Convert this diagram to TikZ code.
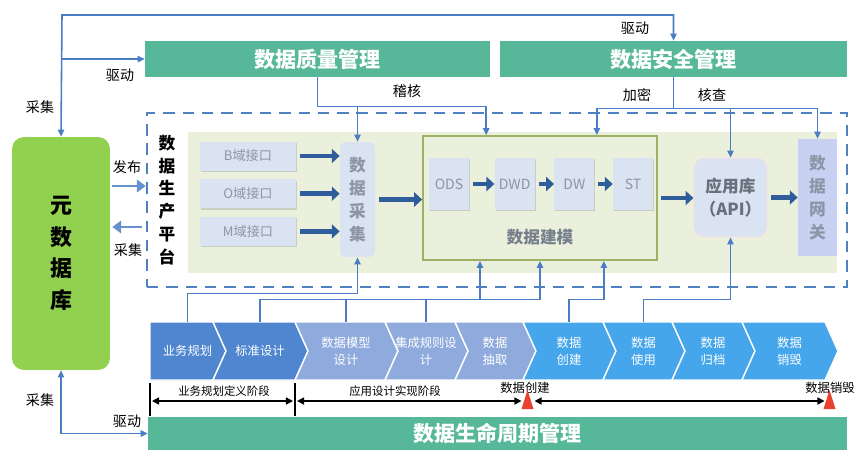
\documentclass[tikz,border=0pt]{standalone}
\usepackage{fontspec}
\setmainfont{Noto Sans CJK SC}
\usetikzlibrary{
        arrows.meta,
        calc,
        positioning,
        shadows
    }
\definecolor{mgreen}{HTML}{56B899}
\definecolor{metagreen}{HTML}{92D050}
\definecolor{palebg}{HTML}{EBF0DD}
\definecolor{boxbg}{HTML}{DAE3F1}
\definecolor{boxtxt}{HTML}{8C96A6}
\definecolor{lnblue}{HTML}{4A7EC4}
\definecolor{fatblue}{HTML}{2F5D9C}
\definecolor{dashblue}{HTML}{4F80C0}
\definecolor{olivebd}{HTML}{9CB163}
\definecolor{chA}{HTML}{4F86CF}
\definecolor{chB}{HTML}{8FAADC}
\definecolor{chC}{HTML}{45A6EC}
\definecolor{mkred}{HTML}{E8412E}
\tikzset{>={Triangle[length=4pt,width=3.6pt]},node distance=0.4cm}
\tikzset{
    ln/.style={draw=lnblue,line width=0.9pt},
    fat/.style={draw=fatblue,line width=2.6pt,-{Triangle[length=4.5pt,width=8pt]},shorten <=2pt},
    side/.style={draw=lnblue!85!white,line width=1.6pt,-{Triangle[length=5pt,width=7pt]}},
    lbl/.style={font=\fontsize{8}{9}\selectfont,inner sep=1pt},
    band/.style={fill=mgreen,text=white,font=\fontsize{12}{14}\selectfont\bfseries,inner sep=0pt},
    iface/.style={fill=boxbg,text=boxtxt,font=\fontsize{7.5}{9}\selectfont,minimum width=1.92cm,minimum height=0.58cm,
        drop shadow={shadow xshift=0.6pt,shadow yshift=-0.8pt,opacity=0.3}},
    tbl/.style={fill=boxbg,text=boxtxt,font=\fontsize{8}{9}\selectfont,minimum width=0.8cm,minimum height=1.04cm,inner sep=0pt,
        drop shadow={shadow xshift=0.6pt,shadow yshift=-0.8pt,opacity=0.3}},
    vtxt/.style={align=center,font=\fontsize{9.5}{13}\selectfont\bfseries},
    chtxt/.style={text=white,align=center,font=\fontsize{7}{9.5}\selectfont,minimum height=1.16cm,inner sep=0pt},
    phase/.style={font=\fontsize{6.5}{8}\selectfont,inner sep=1pt},
    dbl/.style={draw=black,line width=0.8pt,{Triangle[length=4pt,width=4pt]}-{Triangle[length=4pt,width=4pt]}}
}

\begin{document}
\begin{tikzpicture}[x=0.02cm,y=-0.02cm]
    \useasboundingbox (0,0) rectangle (864,464);
    % management bands
    \node[band,minimum width=6.9cm,minimum height=0.72cm] (qual) at (317.5,59) {数据质量管理};
    \node[band,minimum width=6.94cm,minimum height=0.72cm] (sec) at (673.5,59) {数据安全管理};
    \node[band,minimum width=13.98cm,minimum height=0.66cm] (life) at (497.5,433.5) {数据生命周期管理};
    \node[fill=metagreen,rounded corners=0.24cm,minimum width=1.96cm,minimum height=4.66cm,align=center,
        font=\fontsize{12.5}{18}\selectfont\bfseries] (meta) at (61,253.5) {元\\数\\据\\库};

    % production platform
    \fill[palebg] (188,132) rectangle (837,273);
    \node[draw=dashblue,line width=1.5pt,dash pattern=on 6.5pt off 4.5pt,minimum width=14cm,minimum height=3.48cm] (plat) at (497,200) {};
    \node[vtxt] (pname) at (167,200) {数\\据\\生\\产\\平\\台};

    \node[iface] (bif) at (248,156) {B域接口};
    \node[iface,below=0.16cm of bif] (oif) {O域接口};
    \node[iface,below=0.16cm of oif] (mif) {M域接口};
    \node[fill=boxbg,rounded corners=3pt,minimum width=0.7cm,minimum height=2.3cm,vtxt,text=boxtxt] (cj) at (357.5,199.5) {数\\据\\采\\集};

    \node[draw=olivebd,line width=1pt,minimum width=4.68cm,minimum height=2.48cm] (model) at (540,198) {};
    \node[tbl] (ods) at (449,184) {ODS};
    \node[tbl,right=0.5cm of ods] (dwd) {DWD};
    \node[tbl,right=0.38cm of dwd] (dw) {DW};
    \node[tbl,right=0.36cm of dw] (st) {ST};
    \node[font=\fontsize{9.5}{11}\selectfont\bfseries,text=boxtxt!85!black] (mlab) at (540,237) {数据建模};

    \node[fill=boxbg,draw=red!12,rounded corners=0.2cm,minimum width=1.3cm,minimum height=1.58cm,align=center,
        text=boxtxt!75!black,font=\fontsize{9.5}{13}\selectfont\bfseries] (api) at (730.5,197.5) {应用库\\（API）};
    \node[fill=boxbg!92!blue,minimum width=0.78cm,minimum height=2.34cm,vtxt,text=boxtxt] (gw) at (817.5,197.5) {数\\据\\网\\关};

    \draw[fat] (bif.east) -- (bif.east -| cj.west);
    \draw[fat] (oif.east) -- (oif.east -| cj.west);
    \draw[fat] (mif.east) -- (mif.east -| cj.west);
    \draw[fat] (cj.east) -- (cj.east -| model.west);
    \draw[fat] (ods) -- (dwd);
    \draw[fat] (dwd) -- (dw);
    \draw[fat] (dw) -- (st);
    \draw[fat] (model.east) -- (model.east -| api.west);
    \draw[fat] (api.east) -- (api.east -| gw.west);

    % top connectors
    \coordinate (ttop) at (62,15);
    \draw[ln,<->] (meta.north) -- (ttop) -| (sec.north);
    \draw[ln,->] (meta.north |- qual.west) -- (qual.west);
    \node[lbl] (l1) at (635,28) {驱动};
    \node[lbl] (l2) at (120,75) {驱动};
    \node[lbl] (l3) at (40,107) {采集};

    \draw[ln,->] (qual.south) -- ++(0,29) coordinate (qbus) -| ($(model.north west)+(64,0)$);
    \draw[ln,->] (qbus -| cj.north) -- (cj.north);
    \node[lbl] (l4) at (407,91) {稽核};

    \draw[ln] (sec.south) -- ++(0,31) coordinate (sbus);
    \draw[ln,->] (sbus) -| ($(model.north east)+(-61,0)$);
    \draw[ln,->] (sbus) -| (gw.north);
    \draw[ln,->] (sbus -| api.north) -- (api.north);
    \node[lbl] (l5) at (637,95) {加密};
    \node[lbl] (l6) at (712,95) {核查};

    % left side
    \draw[side] ($(meta.east)+(2,-67.5)$) -- ($(plat.west)+(0,-14)$);
    \draw[side] ($(plat.west)+(-4,27)$) -- ($(meta.east)+(2,-26.5)$);
    \node[lbl] (l7) at (127,167) {发布};
    \node[lbl] (l8) at (128,250) {采集};
    \draw[ln,<->] (meta.south) |- (life.west);
    \node[lbl] (l9) at (40,400) {采集};
    \node[lbl] (l10) at (127,421) {驱动};

    % lifecycle chevrons
    \foreach \xl/\xr/\cc/\nt/\tx [count=\i] in {
        150/213/chA/0/业务规划,
        213/295/chA/13/标准设计,
        295/385/chB/13/{数据模型\\设计},
        385/455/chB/13/{集成规则设\\计},
        455/523/chB/13/{数据\\抽取},
        523/603/chC/13/{数据\\创建},
        603/672/chC/13/{数据\\使用},
        672/742/chC/13/{数据\\归档},
        742/825/chC/13/{数据\\销毁}}
    {
        \filldraw[fill=\cc,draw=white,line width=0.8pt] (\xl,322) -- (\xr,322) -- ({\xr+13},351) -- (\xr,380)
            -- (\xl,380) -- ({\xl+\nt},351) -- cycle;
        \node[chtxt] (c\i) at ({(\xl+\xr)/2+6},351) {\tx};
    }

    \draw[ln,->] (c1.north) -- ++(0,-28) -| (cj.south);
    \draw[ln,->] (c2.north) -- ++(0,-22) coordinate (mbus) -| (model.south);
    \draw[ln] (c3.north) -- (c3.north |- mbus);
    \draw[ln] (c4.north) -- (c4.north |- mbus);
    \coordinate (m1) at ($(model.south)+(-60,0)$);
    \draw[ln,->] (m1 |- mbus) -- (m1);
    \draw[ln,->] (c6.north) -- ++(0,-22) -| ($(model.south east)+(-54,0)$);
    \draw[ln,->] (c7.north) -- ++(0,-22) -| (api.south);

    % phases
    \coordinate (t1) at (150,383);
    \coordinate (t2) at (295,383);
    \coordinate (k1) at (527.5,409);
    \coordinate (k2) at (829.5,409);
    \draw[line width=0.8pt] (t1) -- ++(0,33);
    \draw[line width=0.8pt] (t2) -- ++(0,33);
    \node[phase] (p1) at (224,391) {业务规划定义阶段};
    \node[phase] (p2) at (395,391) {应用设计实现阶段};
    \node[phase,font=\fontsize{7}{8}\selectfont] (n1) at (525,388) {数据创建};
    \node[phase,font=\fontsize{7}{8}\selectfont] (n2) at (830,388) {数据销毁};
    \draw[dbl] ($(t1)+(2,18)$) -- ($(t2)+(-2,18)$);
    \draw[dbl] ($(t2)+(2,18)$) -- ($(k1)+(-6,-8)$);
    \draw[dbl] ($(k1)+(7,-8)$) -- ($(k2)+(-5,-8)$);
    \fill[mkred] (k1) ++(-6,0) -- ++(12,0) -- ++(-6,-19) -- cycle;
    \fill[mkred] (k2) ++(-6,0) -- ++(12,0) -- ++(-6,-19) -- cycle;
\end{tikzpicture}
\end{document}
